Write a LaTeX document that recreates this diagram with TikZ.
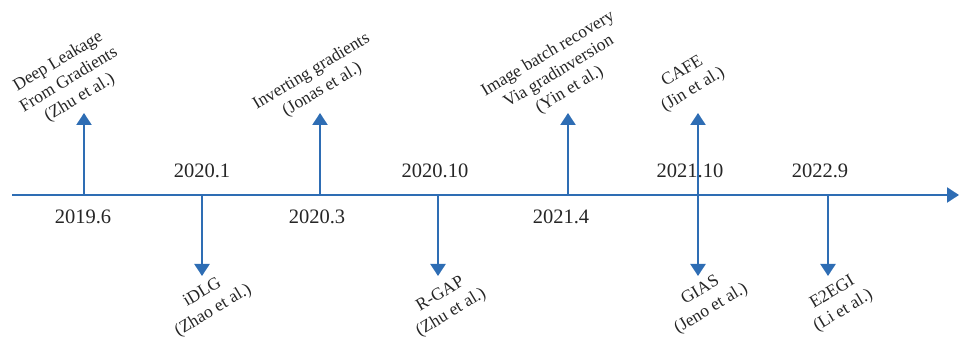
\documentclass[tikz,border=0pt]{standalone}
\usepackage{fontspec}
\setmainfont{Liberation Serif}
\usetikzlibrary{arrows.meta}
\definecolor{lineblue}{HTML}{2E6DB4}
\definecolor{txt}{HTML}{262626}
\begin{document}
\begin{tikzpicture}[x=1pt,y=1pt,
  conn/.style={draw=lineblue, line width=2.3pt, -{Triangle[width=15pt,length=12pt]}},
  datelbl/.style={font=\fontsize{20.5}{22}\selectfont, text=txt, inner sep=0pt},
  worklbl/.style={font=\fontsize{17.5}{21}\selectfont, text=txt, align=center, rotate=31, inner sep=0pt}]
\useasboundingbox (0,0) rectangle (959,-339);
% axis
\coordinate (start) at (12,-195);
\coordinate (end) at (959,-195);
\draw[conn] (start) -- (end);
% points on axis
\coordinate (p1) at (84,-195);
\coordinate (p2) at (202,-195);
\coordinate (p3) at (320,-195);
\coordinate (p4) at (438,-195);
\coordinate (p5) at (568,-195);
\coordinate (p6) at (698,-195);
\coordinate (p7) at (828,-195);
% arrow tips
\coordinate (t1) at (84,-113);
\coordinate (t2) at (202,-276);
\coordinate (t3) at (320,-113);
\coordinate (t4) at (438,-276);
\coordinate (t5) at (568,-113);
\coordinate (t6u) at (698,-113);
\coordinate (t6d) at (698,-276);
\coordinate (t7) at (828,-276);
% date labels
\node[datelbl] (d1) at (83,-217) {2019.6};
\node[datelbl] (d2) at (202,-171) {2020.1};
\node[datelbl] (d3) at (317,-217) {2020.3};
\node[datelbl] (d4) at (435,-171) {2020.10};
\node[datelbl] (d5) at (561,-217) {2021.4};
\node[datelbl] (d6) at (690,-171) {2021.10};
\node[datelbl] (d7) at (820,-171) {2022.9};
% connectors
\draw[conn] (p1) -- (t1);
\draw[conn] (p2) -- (t2);
\draw[conn] (p3) -- (t3);
\draw[conn] (p4) -- (t4);
\draw[conn] (p5) -- (t5);
\draw[conn] (p6) -- (t6u);
\draw[conn] (p6) -- (t6d);
\draw[conn] (p7) -- (t7);
% work labels
\node[worklbl] (w1) at (69,-80) {Deep Leakage\\From Gradients\\(Zhu et al.)};
\node[worklbl] (w2) at (317,-81) {Inverting gradients\\(Jonas et al.)};
\node[worklbl] (w3) at (559,-72) {Image batch recovery\\Via gradinversion\\(Yin et al.)};
\node[worklbl] (w4) at (688,-81) {CAFE\\(Jin et al.)};
\node[worklbl] (w5) at (208,-302) {iDLG\\(Zhao et al.)};
\node[worklbl] (w6) at (446,-304) {R-GAP\\(Zhu et al.)};
\node[worklbl] (w7) at (706,-300) {GIAS\\(Jeno et al.)};
\node[worklbl] (w8) at (838,-302) {E2EGI\\(Li et al.)};
\end{tikzpicture}
\end{document}
